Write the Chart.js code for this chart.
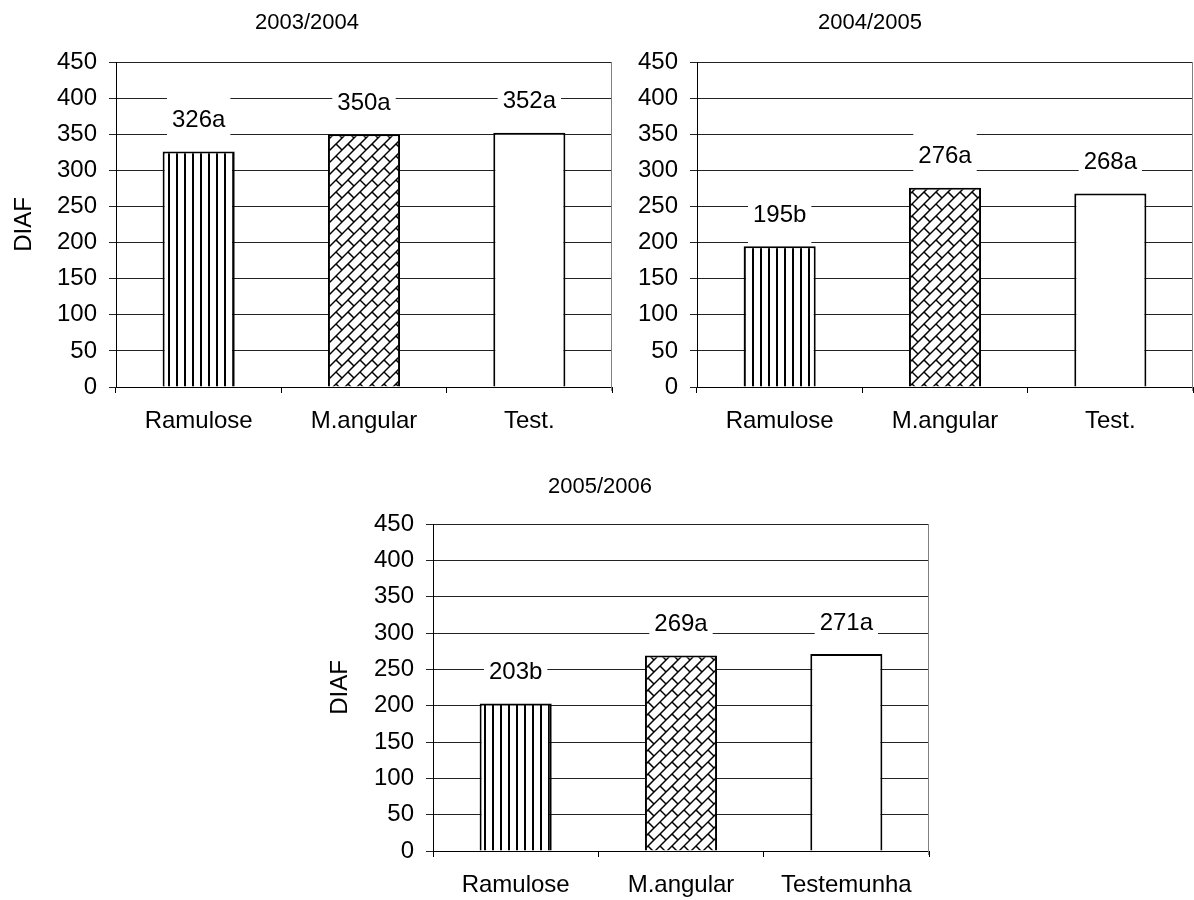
<!DOCTYPE html>
<html>
<head>
<meta charset="utf-8">
<script src="https://cdn.jsdelivr.net/npm/chart.js@4"></script>
<style>
  html, body { margin: 0; padding: 0; background: #fff; }
  body { width: 1194px; height: 900px; position: relative; overflow: hidden; }
  canvas { position: absolute; }
</style>
</head>
<body>
<canvas id="c1" width="640" height="450" style="left:0;top:0"></canvas>
<canvas id="c2" width="594" height="450" style="left:600px;top:0"></canvas>
<canvas id="c3" width="650" height="450" style="left:300px;top:450px"></canvas>
<script>
// Treatments and DIAF values per season, with the significance letters
const categoriesShort = ['Ramulose', 'M.angular', 'Test.'];
const categoriesLong = ['Ramulose', 'M.angular', 'Testemunha'];
const diaf0304 = [326, 350, 352];
const letters0304 = ['a', 'a', 'a'];
const diaf0405 = [195, 276, 268];
const letters0405 = ['b', 'a', 'a'];
const diaf0506 = [203, 269, 271];
const letters0506 = ['b', 'a', 'a'];
const yMin = 0, yMax = 450, yStep = 50;
const axisTitle = 'DIAF';

const FONT = '"Liberation Sans", Arial, sans-serif';

// Fill patterns: vertical stripes, diagonal brick, plain white
function stripePattern() {
  const c = document.createElement('canvas');
  c.width = 8; c.height = 8;
  const g = c.getContext('2d');
  g.fillStyle = '#fff'; g.fillRect(0, 0, 8, 8);
  g.fillStyle = '#000'; g.fillRect(0, 0, 2, 8);
  return g.createPattern(c, 'repeat');
}
function brickPattern() {
  const p = 12, T = 2 * p;
  const c = document.createElement('canvas');
  c.width = T; c.height = T;
  const g = c.getContext('2d');
  g.fillStyle = '#fff'; g.fillRect(0, 0, T, T);
  g.strokeStyle = '#000'; g.lineWidth = 1.5; g.lineCap = 'butt';
  // u = x + y runs across the rising courses, v = x - y runs along them
  const seg = (u1, v1, u2, v2) => {
    g.beginPath();
    g.moveTo((u1 + v1) / 2, (u1 - v1) / 2);
    g.lineTo((u2 + v2) / 2, (u2 - v2) / 2);
    g.stroke();
  };
  for (let k = -4; k <= 6; k++) {
    seg(k * p, -3 * T, k * p, 3 * T);
    const off = ((k % 2) + 2) % 2 * p;
    for (let m = -4; m <= 4; m++) {
      seg(k * p, off + 2 * p * m, (k + 1) * p, off + 2 * p * m);
    }
  }
  return g.createPattern(c, 'repeat');
}

const barLabels = {
  id: 'barLabels',
  afterDatasetsDraw(chart, args, opts) {
    const ctx = chart.ctx;
    const meta = chart.getDatasetMeta(0);
    const vals = chart.data.datasets[0].data;
    ctx.save();
    ctx.font = '24px ' + FONT;
    ctx.textAlign = 'center';
    ctx.textBaseline = 'middle';
    meta.data.forEach((bar, i) => {
      const text = String(vals[i]) + opts.letters[i];
      const w = ctx.measureText(text).width;
      const cy = bar.y - 31;
      ctx.fillStyle = '#fff';
      ctx.fillRect(bar.x - w / 2 - 5, cy - 24, w + 10, 24 + 29);
      ctx.fillStyle = '#000';
      ctx.fillText(text, bar.x, cy);
    });
    ctx.restore();
  }
};

const frame = {
  id: 'frame',
  beforeDatasetsDraw(chart) {
    const { ctx, chartArea } = chart;
    ctx.save();
    ctx.strokeStyle = '#808080';
    ctx.lineWidth = 1;
    ctx.beginPath();
    ctx.moveTo(chartArea.right - 0.5, chartArea.top);
    ctx.lineTo(chartArea.right - 0.5, chartArea.bottom + 4);
    ctx.stroke();
    ctx.restore();
  },
  afterDraw(chart, args, opts) {
    const { ctx, chartArea } = chart;
    ctx.save();
    ctx.fillStyle = '#000';
    ctx.textAlign = 'center';
    ctx.textBaseline = 'middle';
    ctx.font = '22px ' + FONT;
    ctx.fillText(opts.title, opts.titleX, opts.titleY);
    if (opts.axisX !== null) {
      ctx.font = '24px ' + FONT;
      ctx.translate(opts.axisX, (chartArea.top + chartArea.bottom) / 2);
      ctx.rotate(-Math.PI / 2);
      ctx.fillText(axisTitle, 0, 0);
    }
    ctx.restore();
  }
};

function makeChart(id, cats, vals, letters, title, g) {
  const canvas = document.getElementById(id);
  const W = canvas.width, H = canvas.height;
  return new Chart(canvas, {
    type: 'bar',
    data: {
      labels: cats,
      datasets: [{
        data: vals,
        backgroundColor: [stripePattern(), brickPattern(), '#ffffff'],
        borderColor: '#000',
        borderWidth: 2,
        categoryPercentage: 1,
        barPercentage: 0.436
      }]
    },
    options: {
      responsive: false,
      animation: false,
      events: [],
      layout: { padding: { top: g.top, left: 0, right: W - g.right, bottom: 0 } },
      plugins: {
        legend: { display: false },
        title: { display: false },
        tooltip: { enabled: false },
        barLabels: { letters },
        frame: { title, titleX: g.titleX, titleY: g.titleY, axisX: g.axisX }
      },
      scales: {
        x: {
          afterFit(s) { s.height = H - g.bottom; },
          grid: { drawOnChartArea: false, drawTicks: true, tickLength: 6, color: '#000', offset: true },
          border: { color: '#000', width: 1 },
          ticks: { color: '#000', font: { family: FONT, size: 24 }, padding: 14, maxRotation: 0 }
        },
        y: {
          min: yMin, max: yMax,
          afterFit(s) { s.width = g.left; },
          ticks: { stepSize: yStep, color: '#000', font: { family: FONT, size: 24 }, padding: 12 },
          grid: { color: '#222', lineWidth: 1, tickLength: 7, drawTicks: true },
          border: { color: '#000', width: 1 }
        }
      }
    },
    plugins: [barLabels, frame]
  });
}

makeChart('c1', categoriesShort, diaf0304, letters0304, '2003/2004',
  { left: 116, top: 62, right: 612, bottom: 387, titleX: 307, titleY: 23, axisX: 24 });
makeChart('c2', categoriesShort, diaf0405, letters0405, '2004/2005',
  { left: 97, top: 62, right: 593, bottom: 387, titleX: 270, titleY: 23, axisX: null });
makeChart('c3', categoriesLong, diaf0506, letters0506, '2005/2006',
  { left: 133, top: 74, right: 629, bottom: 401, titleX: 300, titleY: 37, axisX: 40 });
</script>
</body>
</html>
